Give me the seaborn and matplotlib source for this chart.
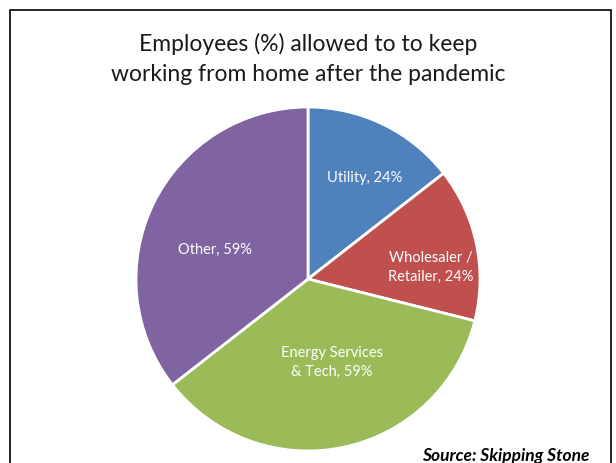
import numpy as np
import matplotlib
matplotlib.use("Agg")
import matplotlib.pyplot as plt
import seaborn as sns
from matplotlib.patches import Rectangle

categories = ["Utility", "Wholesaler /\nRetailer", "Energy Services\n& Tech", "Other"]
values = [24, 24, 59, 59]
colors = ["#4F81BD", "#C0504D", "#9BBB59", "#8064A2"]
title = "Employees (%) allowed to to keep\nworking from home after the pandemic"
source = "Source: Skipping Stone"

sns.set_theme(style="white")
plt.rcParams['font.family'] = ['Lato', 'DejaVu Sans']

fig = plt.figure(figsize=(6.16, 4.64), dpi=100)
fig.patch.set_facecolor("white")
ax = fig.add_axes([136/616, 12/464, 344/616, 344/464])

wedges, _ = ax.pie(values, colors=colors, startangle=90, counterclock=False,
                   wedgeprops=dict(edgecolor="white", linewidth=2))
ax.set_xlim(-1, 1)
ax.set_ylim(-1, 1)
ax.axis("off")

# label placement: radial fraction and angle offset (deg) per wedge
label_r = [0.68, 0.72, 0.50, 0.57]
label_da = [-3, -6, 4, 8]
for w, cat, v, r, da in zip(wedges, categories, values, label_r, label_da):
    mid = np.deg2rad((w.theta1 + w.theta2) / 2 + da)
    ax.text(r*np.cos(mid), r*np.sin(mid), f"{cat}, {v}%", ha="center", va="center",
            color="white", fontsize=10.5, linespacing=1.45)

fig.text(308/616, 1 - 59/464, title, ha="center", va="center", fontsize=16.5,
         color="#1a1a1a", linespacing=1.5)
fig.text(590/616, 1 - 456/464, source, ha="right", va="center", fontsize=12.5,
         fontweight="bold", fontstyle="italic", color="black")

fig.patches.append(Rectangle((10/616, -0.05), 601/616, 1.05 - 11/464,
                             transform=fig.transFigure, fill=False,
                             edgecolor="black", linewidth=1.2))

fig.savefig("out.png", dpi=100)
